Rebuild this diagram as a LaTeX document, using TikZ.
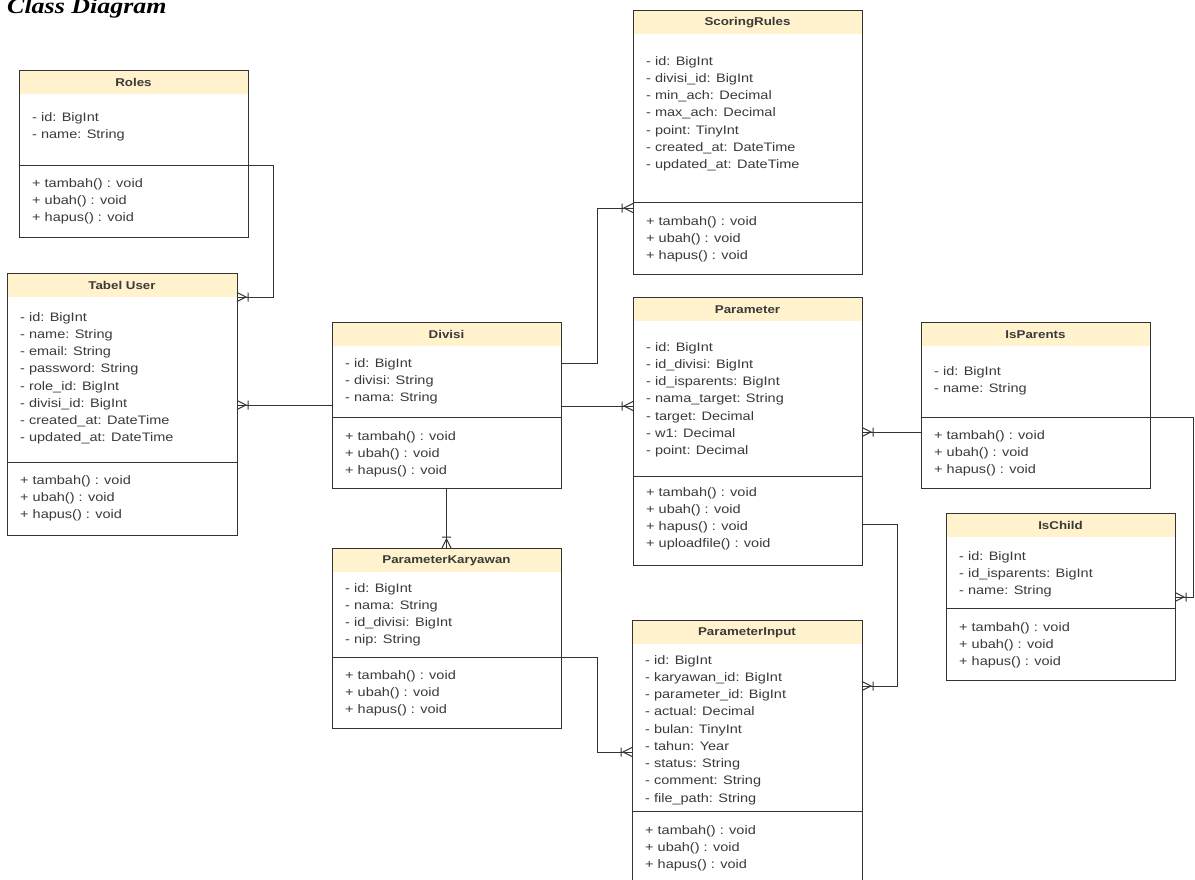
\documentclass[tikz,border=0pt]{standalone}
\usepackage{fontspec}
\usetikzlibrary{calc}

% Slightly widened faces for the class boxes and the heading
\newfontfamily\umlfont[FakeStretch=1.18]{Liberation Sans}
\newfontfamily\headfont[FakeStretch=1.18]{Liberation Serif}

\definecolor{umlline}{HTML}{333333}
\definecolor{umltext}{HTML}{3A3A3A}
\definecolor{umlhead}{HTML}{FFF2CC}

\tikzset{
  classbox/.style={draw=umlline, line width=1pt, fill=white, anchor=north west,
                   inner sep=0pt, outer sep=0pt},
  headband/.style={fill=umlhead},
  classtitle/.style={font=\umlfont\bfseries\fontsize{11.3}{13}\selectfont,
                     text=umltext, inner sep=0pt},
  classtext/.style={font=\umlfont\fontsize{12.3}{14}\selectfont, text=umltext,
                    anchor=base west, inner sep=0pt},
  divider/.style={draw=umlline, line width=1pt},
  conn/.style={draw=umlline, line width=1pt},
}

% #1 name, #2 top-left corner, #3 width, #4 height, #5 title, #6 divider offset
\newcommand\umlbox[6]{%
  \node[classbox, minimum width=#3pt, minimum height=#4pt] (#1) at (#2) {};
  \fill[headband] ([shift={(0.5pt,-0.5pt)}]#1.north west)
                  rectangle ([shift={(-0.5pt,-24pt)}]#1.north east);
  \node[classtitle] (#1-title) at ([yshift=-12.5pt]#1.north) {#5};
  \draw[divider] ([yshift=-#6pt]#1.north west) -- ([yshift=-#6pt]#1.north east);
}

% #1 class, #2 prefix for the row names, #3 offset of the first baseline, #4 rows
\newcommand\umllines[4]{%
  \foreach \row [count=\k from 0] in {#4}
    \node[classtext] (#2-\k) at ([xshift=13pt, yshift=-#3pt-\k*17.25pt]#1.north west) {\row};
}

% one-to-many end mark: crow's foot on the entity side plus a bar
% #1 point on the entity border, #2 direction in which the line leaves it
\newcommand\manyend[2]{%
  \begin{scope}[shift={(#1)}, rotate=#2, x=1pt, y=1pt]
    \draw[conn] (0,4.5) -- (9,0) -- (0,-4.5) (11,4.5) -- (11,-4.5);
  \end{scope}}

\begin{document}
\begin{tikzpicture}[x=1pt, y=-1pt]
\useasboundingbox (0,0) rectangle (1195,879);
\clip (0,0) rectangle (1195,879);
\fill[white] (0,0) rectangle (1195,879);

\node[font=\headfont\bfseries\itshape\fontsize{22}{24}\selectfont, anchor=base west,
      inner sep=0pt] (heading) at (7,13.5) {Class Diagram};

% ---------- classes ----------
\umlbox{roles}{19,70}{229}{167}{Roles}{95}
\umllines{roles}{roles-a}{51}{- id: BigInt, - name: String}
\umllines{roles}{roles-m}{117}{+ tambah() : void, + ubah() : void, + hapus() : void}

\umlbox{user}{7,273}{230}{262}{Tabel User}{189}
\umllines{user}{user-a}{48}{- id: BigInt, - name: String, - email: String, - password: String,
  - role\_id: BigInt, - divisi\_id: BigInt, - created\_at: DateTime, - updated\_at: DateTime}
\umllines{user}{user-m}{211}{+ tambah() : void, + ubah() : void, + hapus() : void}

\umlbox{divisi}{332,322}{229}{166}{Divisi}{95}
\umllines{divisi}{divisi-a}{45}{- id: BigInt, - divisi: String, - nama: String}
\umllines{divisi}{divisi-m}{118}{+ tambah() : void, + ubah() : void, + hapus() : void}

\umlbox{pk}{332,548}{229}{180}{ParameterKaryawan}{109}
\umllines{pk}{pk-a}{44}{- id: BigInt, - nama: String, - id\_divisi: BigInt, - nip: String}
\umllines{pk}{pk-m}{131}{+ tambah() : void, + ubah() : void, + hapus() : void}

\umlbox{sr}{633,10}{229}{264}{ScoringRules}{192}
\umllines{sr}{sr-a}{55}{- id: BigInt, - divisi\_id: BigInt, - min\_ach: Decimal, - max\_ach: Decimal,
  - point: TinyInt, - created\_at: DateTime, - updated\_at: DateTime}
\umllines{sr}{sr-m}{215}{+ tambah() : void, + ubah() : void, + hapus() : void}

\umlbox{param}{633,297}{229}{268}{Parameter}{179}
\umllines{param}{param-a}{54}{- id: BigInt, - id\_divisi: BigInt, - id\_isparents: BigInt,
  - nama\_target: String, - target: Decimal, - w1: Decimal, - point: Decimal}
\umllines{param}{param-m}{199}{+ tambah() : void, + ubah() : void, + hapus() : void,
  + uploadfile() : void}

\umlbox{pi}{632,620}{230}{263}{ParameterInput}{191}
\umllines{pi}{pi-a}{44}{- id: BigInt, - karyawan\_id: BigInt, - parameter\_id: BigInt,
  - actual: Decimal, - bulan: TinyInt, - tahun: Year, - status: String, - comment: String,
  - file\_path: String}
\umllines{pi}{pi-m}{214}{+ tambah() : void, + ubah() : void, + hapus() : void}

\umlbox{isparents}{921,322}{229}{166}{IsParents}{95}
\umllines{isparents}{isparents-a}{53}{- id: BigInt, - name: String}
\umllines{isparents}{isparents-m}{117}{+ tambah() : void, + ubah() : void, + hapus() : void}

\umlbox{ischild}{946,513}{229}{167}{IsChild}{95}
\umllines{ischild}{ischild-a}{47}{- id: BigInt, - id\_isparents: BigInt, - name: String}
\umllines{ischild}{ischild-m}{118}{+ tambah() : void, + ubah() : void, + hapus() : void}

% ---------- relations ----------
\coordinate (roles-out) at ([yshift=-95pt]roles.north east);
\coordinate (user-in-roles) at ([yshift=-24pt]user.north east);
\draw[conn] (roles-out) -- ++(25,0) |- (user-in-roles);
\manyend{user-in-roles}{0}

\coordinate (divisi-w) at ([yshift=-83pt]divisi.north west);
\coordinate (user-in-divisi) at (divisi-w -| user.east);
\draw[conn] (divisi-w) -- (user-in-divisi);
\manyend{user-in-divisi}{0}

\coordinate (divisi-ne) at ([yshift=-41pt]divisi.north east);
\coordinate (sr-in) at ([yshift=-198pt]sr.north west);
\draw[conn] (divisi-ne) -- ++(36,0) |- (sr-in);
\manyend{sr-in}{180}

\coordinate (divisi-e) at ([yshift=-84pt]divisi.north east);
\coordinate (param-in-divisi) at (divisi-e -| param.west);
\draw[conn] (divisi-e) -- (param-in-divisi);
\manyend{param-in-divisi}{180}

\draw[conn] (divisi.south) -- (pk.north);
\manyend{pk.north}{90}

\coordinate (pk-e) at ([yshift=-109pt]pk.north east);
\coordinate (pi-in-pk) at ([yshift=-132pt]pi.north west);
\draw[conn] (pk-e) -- ++(36,0) |- (pi-in-pk);
\manyend{pi-in-pk}{180}

\coordinate (param-e) at ([yshift=-227pt]param.north east);
\coordinate (pi-in-param) at ([yshift=-66pt]pi.north east);
\draw[conn] (param-e) -- ++(35,0) |- (pi-in-param);
\manyend{pi-in-param}{0}

\coordinate (isp-w) at ([yshift=-110pt]isparents.north west);
\coordinate (param-in-isp) at (isp-w -| param.east);
\draw[conn] (isp-w) -- (param-in-isp);
\manyend{param-in-isp}{0}

\coordinate (isp-e) at ([yshift=-95pt]isparents.north east);
\coordinate (isc-in) at ([yshift=-84pt]ischild.north east);
\draw[conn] (isp-e) -- ++(43,0) |- (isc-in);
\manyend{isc-in}{0}
\end{tikzpicture}
\end{document}
